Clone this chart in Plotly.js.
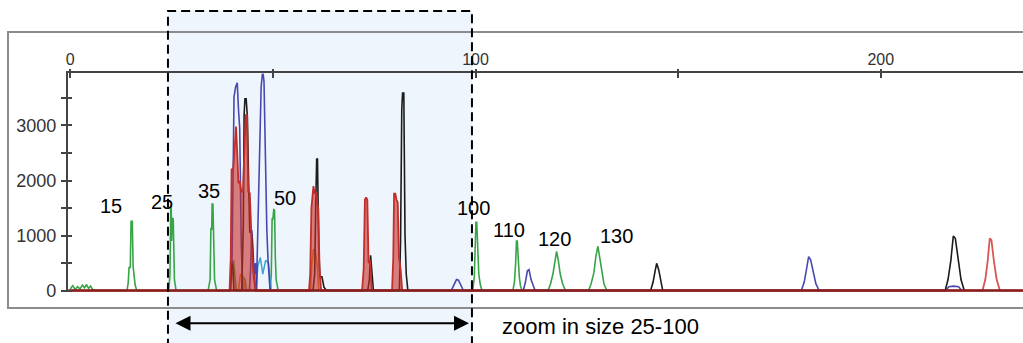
<!DOCTYPE html>
<html>
<head>
<meta charset="utf-8">
<script src="https://cdn.plot.ly/plotly-3.0.1.min.js"></script>
<style>html,body{margin:0;padding:0;background:#fff;}#chart{width:1023px;height:343px;}</style>
</head>
<body>
<div id="chart"></div>
<script>
// ---- data (size in bp, signal in RFU) ----
const greenX = [0,0.6,1.2,1.8,2.4,3.0,3.5,4.0,4.5,5.0,5.5,6.2,
  14.0,14.3,14.5,14.8,15.0,15.3,15.5,15.7,16.0,16.4,
  24.3,24.6,24.8,24.9,25.0,25.2,25.4,25.5,25.7,26.1,
  34.0,34.5,34.7,34.9,35.0,35.2,35.4,35.6,36.1,
  39.6,40.0,40.3,40.7,41.0,42.3,42.7,43.1,43.5,
  49.3,49.6,49.8,50.0,50.2,50.4,50.6,50.8,51.3,
  99.3,99.7,99.9,100.1,100.3,100.5,100.8,101.2,101.6,
  109.2,109.6,109.9,110.1,110.3,110.5,110.8,111.1,111.5,
  117.9,118.5,119.1,119.6,120.0,120.4,120.9,121.5,122.2,
  127.9,128.5,129.2,129.7,130.2,130.6,131.1,131.7,132.4, 235];
const greenY = [30,90,20,70,30,100,50,110,40,80,20,0,
  0,150,420,420,1260,1260,440,300,100,0,
  0,300,1530,1520,900,1320,1300,600,200,0,
  0,200,1140,1100,1580,1570,700,200,0,
  0,500,550,200,0,0,250,200,0,
  0,300,1300,1300,1470,1460,600,200,0,
  0,250,1000,1240,1240,800,300,100,0,
  0,150,500,900,900,500,250,80,0,
  0,120,300,550,710,560,300,120,0,
  0,120,320,620,805,620,320,120,0, 0];

const cyanX = [45.8,46.3,46.9,47.5,48.2,48.9,49.6];
const cyanY = [0,450,600,300,550,500,0];

const blueX = [39.5,39.9,40.2,40.4,40.8,41.2,41.5,41.8,42.2,42.6,
  44.2,44.5,44.8,45.1,45.4,45.7,
  46.0,46.1,46.6,47.1,47.4,47.6,47.8,48.05,48.5,48.8,49.3,
  94.0,94.7,95.3,95.8,96.4,97.0,
  111.8,112.3,112.8,113.2,113.7,114.2,114.7,
  180.4,181.1,181.7,182.2,182.7,183.3,184.0,184.8,
  216.0,216.8,218.0,219.2,220.0];
const blueY = [0,500,2250,3520,3700,3775,3300,2950,800,0,
  0,400,1100,600,300,500,
  0,550,2430,3705,3930,3930,3800,2680,1100,550,0,
  0,120,200,190,90,0,
  0,150,360,380,200,80,0,
  0,150,400,615,560,350,120,0,
  0,70,80,70,0];

const orangeX = [41.5,42.0,42.6,43.2,59.3,59.6,60.0,60.5,61.0,61.3];
const orangeY = [0,300,250,0,0,500,750,700,400,0];

const blackX = [39.4,39.8,40.1,40.4,
  42.3,42.7,42.9,43.1,43.4,43.7,44.0,44.3,44.6,44.9,45.2,45.7,
  59.9,60.3,60.6,60.8,61.0,61.3,61.6,62.1,62.6,63.2,
  73.4,73.8,74.1,74.4,74.8,
  81.2,81.5,81.8,82.0,82.3,82.6,82.9,83.3,
  143.2,143.8,144.3,144.7,145.2,145.7,146.2,
  215.9,216.6,217.3,217.9,218.4,219.0,219.8,220.6];
const blackY = [0,500,450,0,
  0,1200,3200,3485,3485,3160,2000,1050,1100,900,300,0,
  0,300,1700,2390,2390,800,250,250,60,0,
  0,200,640,300,0,
  0,900,3300,3590,3590,1000,300,0,
  0,150,350,495,380,150,0,
  0,200,550,990,950,600,200,0];

const redX = [0,
  39.3,39.6,39.8,40.2,40.6,40.9,41.2,41.5,41.8,42.2,42.6,43.0,43.3,43.6,43.9,44.3,44.8,45.3,45.8,
  58.9,59.2,59.5,59.8,60.0,60.3,60.6,60.9,61.2,61.5,61.9,
  72.0,72.4,72.7,73.0,73.3,73.6,74.0,74.4,
  79.4,79.7,79.9,80.2,80.5,80.8,81.1,81.5,81.9,
  225.1,225.8,226.4,226.9,227.3,227.9,228.6,229.4, 235];
const redY = [0,
  0,600,2200,2200,2700,2980,2500,1950,2000,1800,1800,2800,3190,3190,1800,1770,800,300,0,
  0,300,1500,1850,1900,1770,1770,1600,1500,400,0,
  0,400,1650,1695,1650,500,550,0,
  0,600,1760,1760,1650,1600,600,400,0,
  0,200,550,950,920,550,200,0, 0];

const baselineX = [-0.5, 235.1];
const baselineY = [0, 0];

const sizeTicks = [0, 50, 100, 150, 200];
const sizeTickText = ['0', '', '100', '', '200'];
const rfuTicks = [0, 500, 1000, 1500, 2000, 2500, 3000, 3500];
const rfuTickText = ['0', '', '1000', '', '2000', '', '3000', ''];

const peakLabels = ['15', '25', '35', '50', '100', '110', '120', '130'];
const peakLabelX = [10.0, 22.75, 34.2, 52.9, 99.5, 108.2, 119.6, 134.9];
const peakLabelY = [1536, 1618, 1809, 1676, 1509, 1109, 936, 991];

const captionText = 'zoom in size 25-100';

// ---- layout ----
const FONT = 'Liberation Sans, Arial, Helvetica, sans-serif';
const XR = [-0.57, 235.1];
const YR = [-30, 3949];
const XD = [0.0591, 1];
const YD = [0.0572, 0.8504];

function line(x, y, color, w, op, fillc) {
  const t = {type: 'scatter', mode: 'lines', x: x, y: y, xaxis: 'x', yaxis: 'y',
    line: {color: color, width: w, shape: 'linear'}, opacity: op || 1,
    hoverinfo: 'skip', showlegend: false};
  if (fillc) { t.fill = 'tozeroy'; t.fillcolor = fillc; }
  return t;
}

// red peaks inside the dense zone are drawn filled, the late one as an outline
const split = redX.findIndex(v => v > 200);

const traces = [
  line(greenX, greenY, '#38a448', 1.6),
  line(cyanX, cyanY, '#3fa3cf', 1.5),
  line(blueX, blueY, '#3535a8', 1.6, 0.9),
  line(orangeX, orangeY, '#d0902a', 1.6),
  line(blackX, blackY, '#1c1c1c', 1.6),
  line(redX.slice(0, split), redY.slice(0, split), '#c22f2a', 1.8, 0.9, 'rgba(200,45,40,0.6)'),
  line(redX.slice(split - 1), redY.slice(split - 1), '#d2453f', 1.8, 0.9),
  line(baselineX, baselineY, '#8b1c1c', 2.5),
  {type: 'scatter', mode: 'markers', x: [], y: [], xaxis: 'x2', yaxis: 'y2', showlegend: false, hoverinfo: 'skip'}
];

const annotations = peakLabels.map((t, i) => ({
  text: t, x: peakLabelX[i], y: peakLabelY[i], xref: 'x', yref: 'y',
  showarrow: false, xanchor: 'center', yanchor: 'middle',
  font: {family: FONT, size: 20, color: '#000'}
}));
annotations.push({
  text: captionText, xref: 'paper', yref: 'paper', x: 0.4847, y: -0.0688,
  xanchor: 'left', yanchor: 'middle', showarrow: false,
  font: {family: FONT, size: 22, color: '#000'}
});
annotations.push({
  text: '', xref: 'paper', yref: 'paper', x: 0.4542, y: -0.0554,
  showarrow: true, axref: 'pixel', ayref: 'pixel', ax: -295, ay: 0,
  arrowside: 'end+start', arrowhead: 2, arrowsize: 1.5, arrowwidth: 2, arrowcolor: '#000',
  standoff: 0, startstandoff: 0
});

const layout = {
  width: 1023, height: 343,
  margin: {l: 8, r: 0, t: 32, b: 35, pad: 0},
  paper_bgcolor: '#ffffff',
  plot_bgcolor: 'rgba(0,0,0,0)',
  showlegend: false,
  hovermode: false,
  font: {family: FONT},
  xaxis: {
    range: XR, domain: XD, anchor: 'y', side: 'top',
    showline: true, linecolor: '#444', linewidth: 2,
    ticks: 'inside', ticklen: 5, tickwidth: 2, tickcolor: '#444',
    tickmode: 'array', tickvals: sizeTicks, ticktext: sizeTickText,
    ticklabelstandoff: 0,
    tickfont: {family: FONT, size: 16, color: '#333'},
    showgrid: false, zeroline: false, fixedrange: true
  },
  xaxis2: {
    range: XR, overlaying: 'x', anchor: 'y', side: 'top',
    showline: false, ticks: 'outside', ticklen: 3, tickwidth: 2, tickcolor: '#444',
    tickmode: 'array', tickvals: sizeTicks, showticklabels: false,
    showgrid: false, zeroline: false, fixedrange: true
  },
  yaxis: {
    range: YR, domain: YD, anchor: 'x', side: 'left',
    showline: true, linecolor: '#444', linewidth: 2,
    ticks: 'outside', ticklen: 5, tickwidth: 2, tickcolor: '#444',
    tickmode: 'array', tickvals: rfuTicks, ticktext: rfuTickText,
    ticklabelstandoff: 1,
    tickfont: {family: FONT, size: 18, color: '#333'},
    showgrid: false, zeroline: false, fixedrange: true
  },
  yaxis2: {
    range: YR, overlaying: 'y', anchor: 'x', side: 'left',
    showline: false, ticks: 'inside', ticklen: 4, tickwidth: 2, tickcolor: '#444',
    tickmode: 'array', tickvals: rfuTicks, showticklabels: false,
    showgrid: false, zeroline: false, fixedrange: true
  },
  shapes: [
    {type: 'rect', xref: 'paper', yref: 'paper', x0: 0.1576, x1: 0.4571, y0: -0.2, y1: 1.0761,
      fillcolor: '#eef5fc', line: {width: 0}, layer: 'below'},
    {type: 'rect', xref: 'paper', yref: 'paper', x0: 0, x1: 1.01, y0: 0, y1: 1,
      fillcolor: 'rgba(0,0,0,0)', line: {color: '#8c8c8c', width: 2}, layer: 'below'},
    {type: 'rect', xref: 'paper', yref: 'paper', x0: 0.1576, x1: 0.4571, y0: -0.2, y1: 1.0761,
      fillcolor: 'rgba(0,0,0,0)', line: {color: '#000', width: 2, dash: '9px,5px'}, layer: 'above'}
  ],
  annotations: annotations
};

Plotly.newPlot('chart', traces, layout, {staticPlot: true, displayModeBar: false});
</script>
</body>
</html>
